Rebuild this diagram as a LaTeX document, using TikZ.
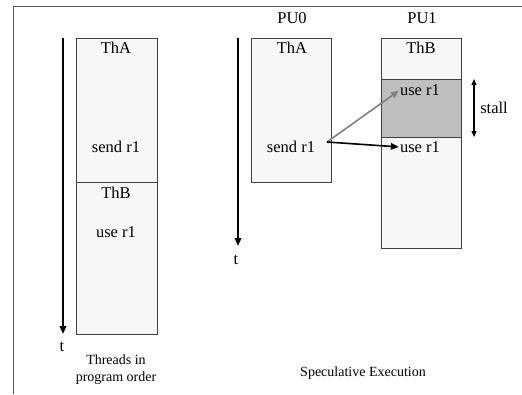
\documentclass[tikz,border=0pt]{standalone}
\usepackage{fontspec}
\setmainfont{Liberation Serif}
\usetikzlibrary{arrows.meta}
\begin{document}
\begin{tikzpicture}[x=1pt,y=-1pt,
  box/.style={draw=black!75, fill=black!3, line width=0.8pt, inner sep=0pt, outer sep=0pt},
  stallbox/.style={draw=black!75, fill=black!25, line width=0.8pt, inner sep=0pt, outer sep=0pt},
  lbl/.style={font=\fontsize{16.5}{18}\selectfont, inner sep=0pt},
  captext/.style={font=\fontsize{14}{17}\selectfont, inner sep=0pt, align=center},
  taxis/.style={line width=1.8pt, -{Triangle[length=8pt,width=6.5pt]}},
  conn/.style={line width=1.6pt, -{Triangle[length=8pt,width=6.5pt]}, shorten >=1pt},
  stallarrow/.style={line width=1.2pt, {Triangle[length=6pt,width=5pt]}-{Triangle[length=6pt,width=5pt]}}
]
\useasboundingbox (0,0) rectangle (522,394);
% frame
\draw[black!65, line width=1pt] (13,394) -- (13,6) -- (522,6);

% left: threads in program order
\coordinate (ax1s) at (63,38);
\coordinate (ax1e) at (63,334);
\draw[taxis] (ax1s) -- (ax1e);
\node[lbl] (t1) at (62,347) {t};
\node[box, minimum width=81pt, minimum height=144pt] (la) at (116.5,110) {};
\node[box, minimum width=81pt, minimum height=152pt] (lb) at (116.5,258) {};
\node[lbl] (laT) at (116,48) {ThA};
\node[lbl] (laS) at (116,147) {send r1};
\node[lbl] (lbT) at (116,193) {ThB};
\node[lbl] (lbU) at (116,232) {use r1};
\node[captext] (cap1) at (116,370) {Threads in\\program order};

% right: speculative execution
\coordinate (ax2s) at (238,38);
\coordinate (ax2e) at (238,246);
\draw[taxis] (ax2s) -- (ax2e);
\node[lbl] (t2) at (236,260) {t};
\node[lbl] (pu0) at (292,18) {PU0};
\node[lbl] (pu1) at (422,18) {PU1};
\node[box, minimum width=80pt, minimum height=144pt] (ba) at (291,110) {};
\node[box, minimum width=80pt, minimum height=210pt] (bb) at (421,143) {};
\node[stallbox, minimum width=80pt, minimum height=58pt] (st) at (421,108) {};
\node[lbl] (baT) at (292,48) {ThA};
\node[lbl] (baS) at (291,147) {send r1};
\node[lbl] (bbT) at (421,48) {ThB};
\node[lbl] (use1) at (420,90) {use r1};
\node[lbl] (use2) at (420,147) {use r1};
\coordinate (src) at (327,142);
\draw[conn, black!50] (src) -- (use1.west);
\draw[conn, black] (src) -- (use2.west);
\coordinate (sta) at (474,79);
\coordinate (stb) at (474,137);
\draw[stallarrow] (sta) -- (stb);
\node[lbl] (stl) at (494,108) {stall};
\node[captext] (cap2) at (363,373) {Speculative Execution};
\end{tikzpicture}
\end{document}
